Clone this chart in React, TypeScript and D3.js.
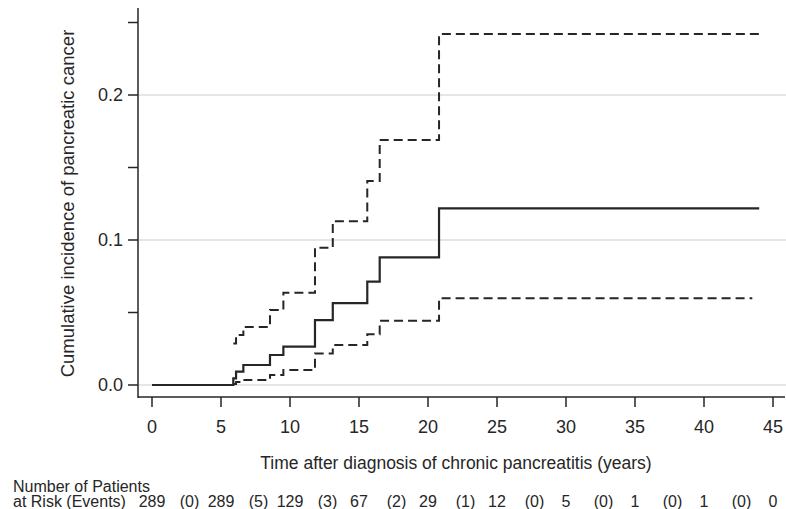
import React, { useEffect } from "react";
import * as d3 from "d3";

// step times (years) and cumulative incidence with 95% CI
const times = [0, 5.89, 6.09, 6.62, 8.55, 9.52, 11.81, 13.1, 15.6, 16.5, 20.8];
const estimate = [0, 0.0046, 0.0092, 0.0138, 0.0207, 0.0264, 0.0448, 0.0564, 0.0713, 0.088, 0.1218];
const ciTimes = [5.89, 6.09, 6.62, 8.55, 9.52, 11.81, 13.1, 15.6, 16.5, 20.8];
const upper = [0.0286, 0.0345, 0.04, 0.0517, 0.0637, 0.0947, 0.113, 0.1407, 0.169, 0.242];
const lower = [0.0007, 0.002, 0.0034, 0.0069, 0.0103, 0.0218, 0.0276, 0.035, 0.0443, 0.0598];
const endEstimate = 44.0;
const endUpper = 44.0;
const endLower = 43.5;

const xTicks = [0, 5, 10, 15, 20, 25, 30, 35, 40, 45];
const yTicks = [0, 0.1, 0.2];
const yMinorTicks = [0.05, 0.15, 0.25];
const atRisk = [289, 289, 129, 67, 29, 12, 5, 1, 1, 0];
const events = [0, 5, 3, 2, 1, 0, 0, 0, 0];

const font = "'Liberation Sans', Arial, Helvetica, sans-serif";
const ink = "#262626";

const App = () => {
  useEffect(() => {
    document.body.style.margin = "0";
  }, []);

  const width = 786;
  const height = 509;
  const x = d3.scaleLinear().domain([0, 45]).range([152, 773]);
  const y = d3.scaleLinear().domain([0, 0.1]).range([385, 240]);
  const axisLeft = 138;
  const axisBottom = 397;

  const stepLine = d3
    .line<[number, number]>()
    .x((d) => x(d[0]))
    .y((d) => y(d[1]))
    .curve(d3.curveStepAfter);

  const withEnd = (ts: number[], vs: number[], end: number): [number, number][] => {
    const pts: [number, number][] = ts.map((t, i) => [t, vs[i]]);
    pts.push([end, vs[vs.length - 1]]);
    return pts;
  };

  return (
    <svg width={width} height={height} style={{ display: "block", background: "#fff" }}>
      {/* gridlines */}
      {yTicks.map((t) => (
        <line key={"g" + t} x1={axisLeft} x2={786} y1={y(t)} y2={y(t)} stroke="#e6e6e6" strokeWidth={2} />
      ))}

      {/* curves */}
      <path d={stepLine(withEnd(ciTimes, upper, endUpper)) || ""} fill="none" stroke={ink} strokeWidth={2} strokeDasharray="9 5" />
      <path d={stepLine(withEnd(ciTimes, lower, endLower)) || ""} fill="none" stroke={ink} strokeWidth={2} strokeDasharray="9 5" />
      <path d={stepLine(withEnd(times, estimate, endEstimate)) || ""} fill="none" stroke={ink} strokeWidth={2.2} />

      {/* y axis */}
      <line x1={axisLeft} x2={axisLeft} y1={8} y2={axisBottom + 1} stroke={ink} strokeWidth={1.5} />
      {yTicks.concat(yMinorTicks).map((t) => (
        <line key={"yt" + t} x1={axisLeft - 10} x2={axisLeft} y1={y(t)} y2={y(t)} stroke={ink} strokeWidth={1.5} />
      ))}
      {yTicks.map((t) => (
        <text key={"yl" + t} x={123} y={y(t)} dy="0.35em" textAnchor="end" fontFamily={font} fontSize={18} fill={ink}>
          {d3.format(".1f")(t)}
        </text>
      ))}
      <text
        transform={`translate(74,${203.5}) rotate(-90)`}
        textAnchor="middle"
        fontFamily={font}
        fontSize={18.5}
        fill={ink}
      >
        Cumulative incidence of pancreatic cancer
      </text>

      {/* x axis */}
      <line x1={axisLeft} x2={785} y1={axisBottom} y2={axisBottom} stroke={ink} strokeWidth={1.5} />
      {xTicks.map((t) => (
        <line key={"xt" + t} x1={x(t)} x2={x(t)} y1={axisBottom} y2={axisBottom + 10} stroke={ink} strokeWidth={1.5} />
      ))}
      {xTicks.map((t) => (
        <text key={"xl" + t} x={x(t)} y={433} textAnchor="middle" fontFamily={font} fontSize={18} fill={ink}>
          {t}
        </text>
      ))}
      <text x={456} y={469} textAnchor="middle" fontFamily={font} fontSize={17.5} fill={ink}>
        Time after diagnosis of chronic pancreatitis (years)
      </text>

      {/* number at risk table */}
      <text x={13} y={491.5} fontFamily={font} fontSize={16} fill={ink}>
        Number of Patients
      </text>
      <text x={13} y={506.5} fontFamily={font} fontSize={16} fill={ink}>
        at Risk (Events)
      </text>
      {atRisk.map((n, i) => (
        <text key={"n" + i} x={x(xTicks[i])} y={506.5} textAnchor="middle" fontFamily={font} fontSize={16} fill={ink}>
          {n}
        </text>
      ))}
      {events.map((e, i) => (
        <text key={"e" + i} x={x(xTicks[i] + 2.5) + 3} y={506.5} textAnchor="middle" fontFamily={font} fontSize={16} fill={ink}>
          ({e})
        </text>
      ))}
    </svg>
  );
};

export default App;
